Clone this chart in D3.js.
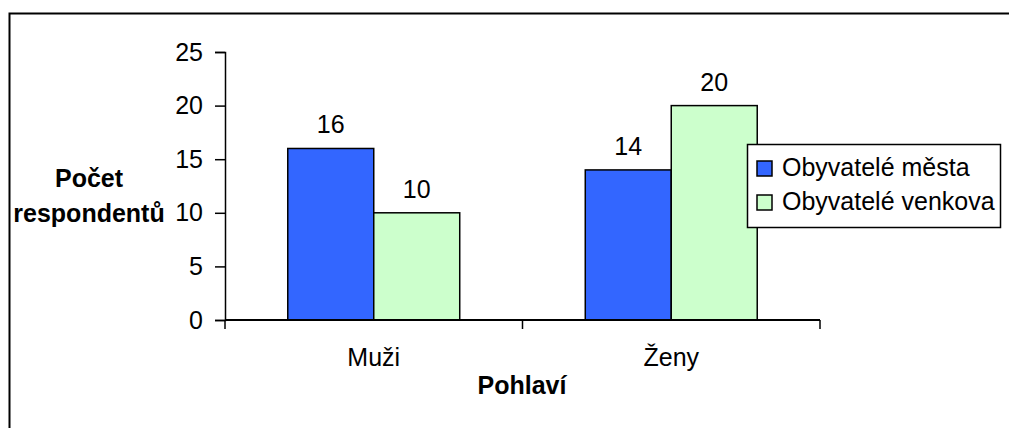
<!DOCTYPE html>
<html>
<head>
<meta charset="utf-8">
<script src="https://cdn.jsdelivr.net/npm/d3@7"></script>
<style>
  body { margin: 0; background: #fff; }
  text { font-family: "Liberation Sans", Arial, sans-serif; fill: #000; }
</style>
</head>
<body>
<svg width="1009" height="428"></svg>
<script>
var categories = ["Muži", "Ženy"],
    series = ["Obyvatelé města", "Obyvatelé venkova"],
    colors = ["#3366ff", "#ccffcc"],
    mesto = [16, 14],
    venkov = [10, 20],
    yTicks = [0, 5, 10, 15, 20, 25];

var svg = d3.select("svg"),
    fs = 25;

// outer frame (runs off the right and bottom edge)
svg.append("rect")
    .attr("x", 9.5).attr("y", 13.5)
    .attr("width", 1020).attr("height", 440)
    .attr("fill", "#fff")
    .attr("stroke", "#000")
    .attr("stroke-width", 2);

var x0 = d3.scaleBand().domain(categories).range([225, 820]),
    x1 = d3.scaleBand().domain(series).range([0, x0.bandwidth()]).paddingOuter(0.73),
    y = d3.scaleLinear().domain([0, 25]).range([320, 52]);

var rows = categories.map(function(c, i) {
  return { cat: c, vals: [mesto[i], venkov[i]] };
});

// bars
var grp = svg.append("g").selectAll("g")
    .data(rows)
  .enter().append("g")
    .attr("transform", function(d) { return "translate(" + x0(d.cat) + ",0)"; });

grp.selectAll("rect")
    .data(function(d) { return d.vals.map(function(v, j) { return { s: series[j], v: v, j: j }; }); })
  .enter().append("rect")
    .attr("x", function(d) { return x1(d.s); })
    .attr("width", x1.bandwidth())
    .attr("y", function(d) { return y(d.v); })
    .attr("height", function(d) { return y(0) - y(d.v); })
    .attr("fill", function(d) { return colors[d.j]; })
    .attr("stroke", "#000")
    .attr("stroke-width", 1.5);

grp.selectAll("text")
    .data(function(d) { return d.vals.map(function(v, j) { return { s: series[j], v: v }; }); })
  .enter().append("text")
    .attr("x", function(d) { return x1(d.s) + x1.bandwidth() / 2; })
    .attr("y", function(d) { return y(d.v) - 15; })
    .attr("text-anchor", "middle")
    .attr("font-size", fs)
    .text(function(d) { return d.v; });

// y axis
var yAxis = svg.append("g")
    .attr("transform", "translate(225,0)")
    .call(d3.axisLeft(y).tickValues(yTicks).tickSize(10).tickPadding(12));
yAxis.select(".domain").attr("stroke", "#000").attr("stroke-width", 1.5);
yAxis.selectAll(".tick line").attr("stroke", "#000").attr("stroke-width", 1.5);
yAxis.selectAll(".tick text").attr("font-size", fs).attr("font-family", null);

// x axis (ticks at category boundaries)
var xAxisG = svg.append("g").attr("transform", "translate(0,320)");
xAxisG.append("line")
    .attr("x1", 225).attr("x2", 820)
    .attr("stroke", "#000").attr("stroke-width", 2);
var bounds = categories.map(function(c) { return x0(c); }).concat([x0.range()[1]]);
xAxisG.selectAll(".xt")
    .data(bounds)
  .enter().append("line")
    .attr("x1", function(d) { return d; }).attr("x2", function(d) { return d; })
    .attr("y1", 0).attr("y2", 9)
    .attr("stroke", "#000").attr("stroke-width", 1.5);
xAxisG.selectAll(".xl")
    .data(categories)
  .enter().append("text")
    .attr("x", function(d) { return x0(d) + x0.bandwidth() / 2; })
    .attr("y", 46)
    .attr("text-anchor", "middle")
    .attr("font-size", fs)
    .text(function(d) { return d; });

// axis titles
svg.append("text")
    .attr("x", 522).attr("y", 394)
    .attr("text-anchor", "middle")
    .attr("font-size", fs).attr("font-weight", "bold")
    .text("Pohlaví");

var yt = svg.append("text")
    .attr("text-anchor", "middle")
    .attr("font-size", fs).attr("font-weight", "bold");
yt.append("tspan").attr("x", 89).attr("y", 187).text("Počet");
yt.append("tspan").attr("x", 89).attr("y", 222).text("respondentů");

// legend
var lg = svg.append("g").attr("transform", "translate(747,144)");
lg.append("rect")
    .attr("x", 0.5).attr("y", 0.5)
    .attr("width", 253).attr("height", 83)
    .attr("fill", "#fff").attr("stroke", "#000").attr("stroke-width", 1.5);
var li = lg.selectAll(".li")
    .data(series)
  .enter().append("g")
    .attr("transform", function(d, i) { return "translate(0," + (17 + i * 34) + ")"; });
li.append("rect")
    .attr("x", 10).attr("y", 0)
    .attr("width", 15).attr("height", 15)
    .attr("fill", function(d, i) { return colors[i]; })
    .attr("stroke", "#000").attr("stroke-width", 1.5);
li.append("text")
    .attr("x", 35).attr("y", 15)
    .attr("font-size", fs)
    .text(function(d) { return d; });
</script>
</body>
</html>
